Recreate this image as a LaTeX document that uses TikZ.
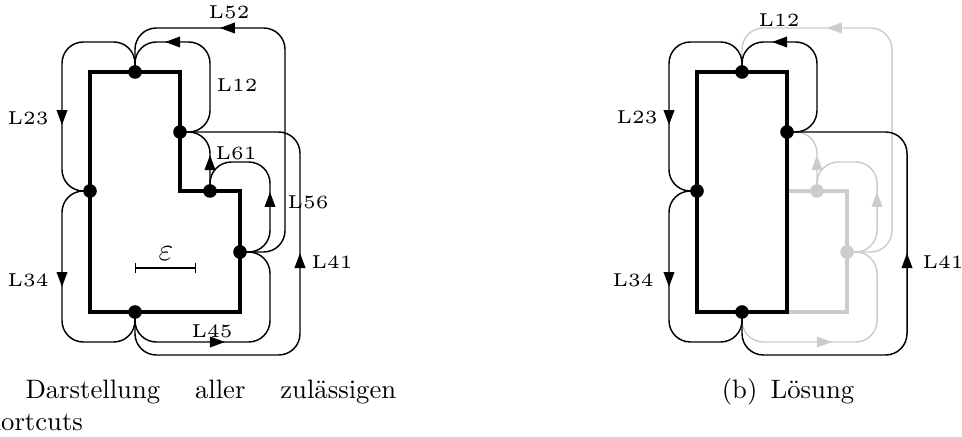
\documentclass[tikz,border=0pt]{standalone}
\usepackage{tikz}
\usetikzlibrary{arrows.meta,decorations.markings}

\begin{document}
\begin{tikzpicture}[x=0.375pt,y=0.375pt,yscale=-1,xscale=1,
    cnt/.style={line width=0.55pt,rounded corners=8pt},
    poly/.style={line width=1.2pt,line join=miter},
    vtx/.style={fill=black},
    lbl/.style={font=\tiny,scale=1.4,inner sep=0pt},
    marr/.style={postaction={decorate},decoration={markings,mark=at position #1 with {\arrow{Triangle[length=5.6pt,width=4pt]}}}},
    unused/.style={color=black!20}]
        \useasboundingbox (0,0) rectangle (962,437);

        %%% (a) all shortcuts
        %Shape: Polygon
        \draw [poly] (90,72) -- (180,72) -- (180,191) -- (240,191) -- (240,312) -- (90,312) -- cycle ;
        \coordinate (a1) at (180,132);
        \coordinate (a2) at (135,72);
        \coordinate (a3) at (90,191);
        \coordinate (a4) at (135,312);
        \coordinate (a5) at (240,252);
        \coordinate (a6) at (210,191);
        %Curve Lines
        \draw [cnt,marr=0.742] (a1) -| (210,42) -| (a2) ;
        \draw [cnt,marr=0.664] (a2) |- (62,42) |- (a3) ;
        \draw [cnt,marr=0.451] (a3) -| (62,342) -| (a4) ;
        \draw [cnt,marr=0.43] (a4) |- (270,342) |- (a5) ;
        \draw [cnt,marr=0.445] (a5) -| (270,162) -| (a6) ;
        \draw [cnt,marr=0.45] (a6) |- (a1) ;
        \draw [cnt,marr=0.725] (a5) -| (285,28) -| (a2) ;
        \draw [cnt,marr=0.557] (a4) |- (300,355) |- (a1) ;
        %Shape: Circle
        \fill [vtx] (a1) circle (6.8) ; \fill [vtx] (a2) circle (6.8) ; \fill [vtx] (a3) circle (6.8) ;
        \fill [vtx] (a4) circle (6.8) ; \fill [vtx] (a5) circle (6.8) ; \fill [vtx] (a6) circle (6.8) ;
        %Straight Lines
        \draw [line width=0.5pt,{Bar[width=4pt]}-{Bar[width=4pt]}] (135,268) -- (196,268) ;
        \node [font=\large] (eps) at (166,254) {$\varepsilon$};
        % Text Node
        \node [lbl] (la52) at (229,12) {L52};
        \node [lbl] (la12) at (237,85) {L12};
        \node [lbl] (la23) at (28,118) {L23};
        \node [lbl] (la61) at (236,153) {L61};
        \node [lbl] (la56) at (308,202) {L56};
        \node [lbl] (la41) at (332,262) {L41};
        \node [lbl] (la34) at (28,280) {L34};
        \node [lbl] (la45) at (212,331) {L45};
        \node [anchor=base west,inner sep=0pt] (capa) at (25,399) {\makebox[139pt][s]{Darstellung aller zulässigen}};
        \node [anchor=base west,inner sep=0pt] (capa2) at (-29,431) {Shortcuts};

        %%% (b) solution
        \begin{scope}[shift={(607,0)}]
        \coordinate (b1) at (180,132);
        \coordinate (b2) at (135,72);
        \coordinate (b3) at (90,191);
        \coordinate (b4) at (135,312);
        \coordinate (b5) at (240,252);
        \coordinate (b6) at (210,191);
        %Shape: Polygon (unused part)
        \draw [poly,unused] (180,191) -- (240,191) -- (240,312) -- (180,312) ;
        %Curve Lines (unused)
        \draw [cnt,unused,marr=0.43] (b4) |- (270,342) |- (b5) ;
        \draw [cnt,unused,marr=0.445] (b5) -| (270,162) -| (b6) ;
        \draw [cnt,unused,marr=0.45] (b6) |- (b1) ;
        \draw [cnt,unused,marr=0.725] (b5) -| (285,28) -| (b2) ;
        \fill [unused] (b5) circle (6.8) ; \fill [unused] (b6) circle (6.8) ;
        %Shape: Rectangle
        \draw [poly] (90,72) rectangle (180,312) ;
        %Curve Lines
        \draw [cnt,marr=0.742] (b1) -| (210,42) -| (b2) ;
        \draw [cnt,marr=0.664] (b2) |- (62,42) |- (b3) ;
        \draw [cnt,marr=0.451] (b3) -| (62,342) -| (b4) ;
        \draw [cnt,marr=0.557] (b4) |- (300,355) |- (b1) ;
        \fill [vtx] (b1) circle (6.8) ; \fill [vtx] (b2) circle (6.8) ;
        \fill [vtx] (b3) circle (6.8) ; \fill [vtx] (b4) circle (6.8) ;
        % Text Node
        \node [lbl] (lb12) at (172,20) {L12};
        \node [lbl] (lb23) at (30,117) {L23};
        \node [lbl] (lb34) at (26,280) {L34};
        \node [lbl] (lb41) at (336,262) {L41};
        \node [anchor=base] (capb) at (181,399) {(b)\enskip Lösung};
        \end{scope}
\end{tikzpicture}
\end{document}
